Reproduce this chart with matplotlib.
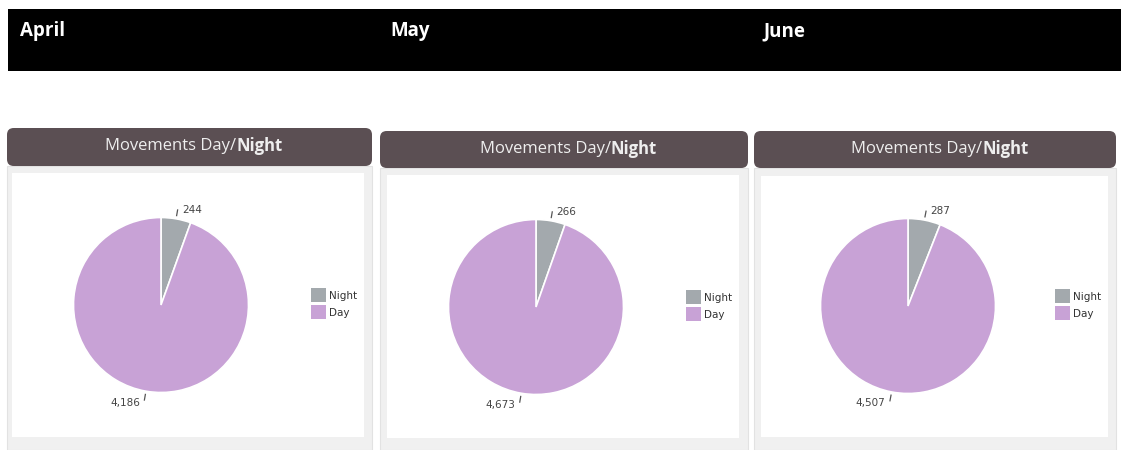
import matplotlib.pyplot as plt
from matplotlib.patches import Rectangle, FancyBboxPatch, Patch
import numpy as np

W, H = 1121, 450

months = ['April', 'May', 'June']
categories = ['Night', 'Day']
night_values = [244, 266, 287]
day_values = [4186, 4673, 4507]

colors = ['#a3a9ad', '#c8a2d6']
header_color = '#5b4f53'
panel_bg = '#f0f0f0'

# panel layout in pixels (left, right, header top, header bottom, white box, pie centre, legend)
panels = [
    dict(x0=7, x1=372, ht=128, hb=166, wx0=12, wx1=364, wy0=173, wy1=437, cx=161, cy=305, lx=311, ly=288, month_x=20),
    dict(x0=380, x1=748, ht=131, hb=168, wx0=387, wx1=739, wy0=175, wy1=438, cx=536, cy=307, lx=686, ly=290, month_x=390),
    dict(x0=754, x1=1116, ht=131, hb=168, wx0=761, wx1=1108, wy0=176, wy1=437, cx=908, cy=306, lx=1055, ly=289, month_x=763),
]
R = 87.5


def fx(x):
    return x / W


def fy(y):
    return 1 - y / H


fig = plt.figure(figsize=(W / 100, H / 100), dpi=100)
fig.patch.set_facecolor('white')

# black month band
fig.patches.append(Rectangle((fx(8), fy(71)), fx(1121) - fx(8), fy(9) - fy(71),
                             transform=fig.transFigure, facecolor='black', edgecolor='none',
                             zorder=-2))

for i, p in enumerate(panels):
    fig.text(fx(p['month_x']), fy(31), months[i], color='white', fontsize=13.5,
             fontweight='bold', family='Open Sans', va='center', ha='left')

    # panel background
    fig.patches.append(Rectangle((fx(p['x0']), 0), fx(p['x1']) - fx(p['x0']), fy(p['hb']),
                                 transform=fig.transFigure, facecolor=panel_bg,
                                 edgecolor='#e2e2e2', linewidth=0.8, zorder=-2))
    # header
    fig.patches.append(FancyBboxPatch((fx(p['x0']), fy(p['hb'])), fx(p['x1']) - fx(p['x0']),
                                      fy(p['ht']) - fy(p['hb']),
                                      boxstyle='round,pad=0,rounding_size=0.006',
                                      transform=fig.transFigure, facecolor=header_color,
                                      edgecolor='none', mutation_aspect=W / H, zorder=-2))
    # white plot area
    fig.patches.append(Rectangle((fx(p['wx0']), fy(p['wy1'])), fx(p['wx1']) - fx(p['wx0']),
                                 fy(p['wy0']) - fy(p['wy1']),
                                 transform=fig.transFigure, facecolor='white', edgecolor='none',
                                 zorder=-1))

    # header title: "Movements Day/" light, "Night" bold
    mid = (p['x0'] + p['x1']) / 2
    split = mid + 47
    hy = fy((p['ht'] + p['hb']) / 2 - 1)
    fig.text(fx(split), hy, 'Movements Day/', color='#eeeeee', fontsize=12,
             family='Open Sans', ha='right', va='center')
    fig.text(fx(split), hy, 'Night', color='#eeeeee', fontsize=12,
             family='Open Sans', fontweight='bold', ha='left', va='center')

    # pie
    S = 120
    ax = fig.add_axes([fx(p['cx'] - S), fy(p['cy'] + S), 2 * S / W, 2 * S / H])
    ax.set_zorder(1)
    vals = [night_values[i], day_values[i]]
    wedges, _ = ax.pie(vals, colors=colors, startangle=90, counterclock=False, radius=R,
                       wedgeprops=dict(edgecolor='white', linewidth=1.2))
    ax.set_xlim(-S, S)
    ax.set_ylim(-S, S)
    ax.set_aspect('equal')
    ax.axis('off')

    for w, v in zip(wedges, vals):
        ang = np.deg2rad((w.theta1 + w.theta2) / 2)
        ux, uy = np.cos(ang), np.sin(ang)
        ax.plot([ux * R * 1.03, ux * R * 1.11], [uy * R * 1.03, uy * R * 1.11],
                color='#555555', linewidth=0.9, solid_capstyle='butt')
        if ux >= 0:
            ax.annotate(f'{v:,}', (ux * R * 1.11, uy * R * 1.11), xytext=(3, -0.5),
                        textcoords='offset points', ha='left', va='center',
                        fontsize=7.5, color='#444444', family='DejaVu Sans')
        else:
            ax.annotate(f'{v:,}', (ux * R * 1.11, uy * R * 1.11), xytext=(-3, -1.5),
                        textcoords='offset points', ha='right', va='center',
                        fontsize=7.5, color='#444444', family='DejaVu Sans')

    handles = [Patch(facecolor=c, edgecolor='none') for c in colors]
    leg = fig.legend(handles, categories, loc='upper left',
                     bbox_to_anchor=(fx(p['lx']), fy(p['ly'])), frameon=False,
                     borderpad=0, borderaxespad=0, handlelength=1.45, handleheight=1.75,
                     handletextpad=0.3, labelspacing=0.25,
                     prop=dict(family='DejaVu Sans', size=7.5), labelcolor='#333333')
    leg.set_zorder(2)

fig.savefig('out.png', dpi=100)
